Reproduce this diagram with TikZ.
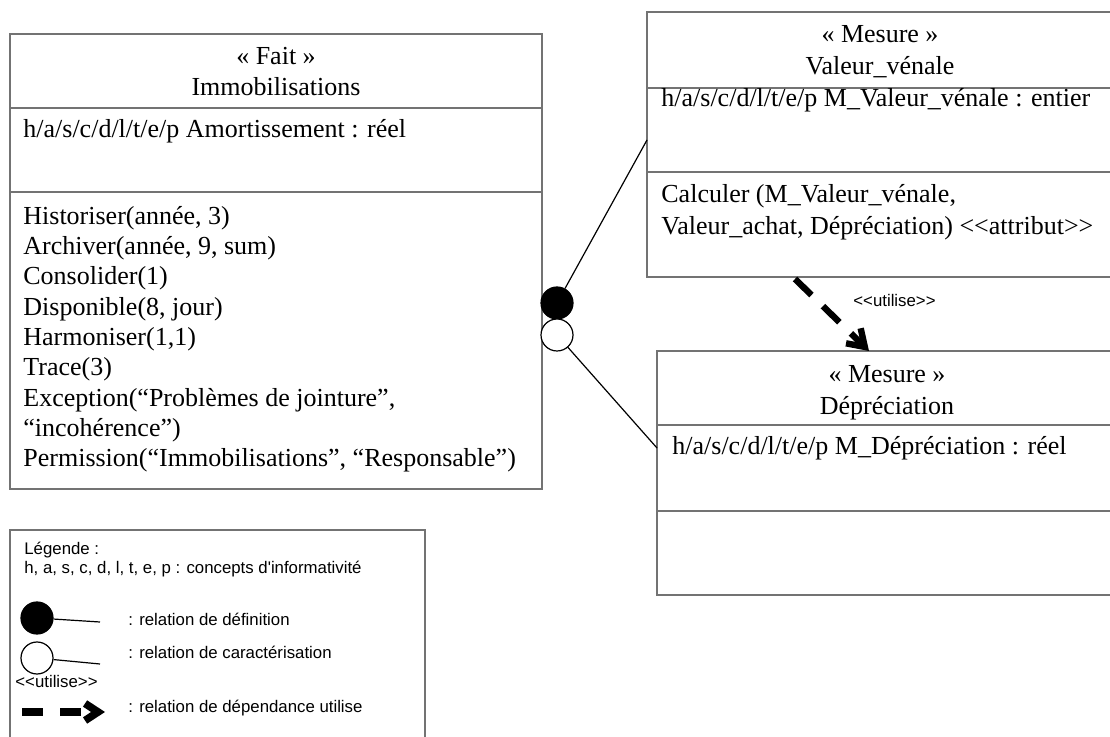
\documentclass[tikz,border=0pt]{standalone}
\usepackage{fontspec}
\setmainfont{Liberation Serif}[Ligatures=TeXOff]
\newfontfamily\arial{Liberation Sans}[Ligatures=TeXOff]
\usetikzlibrary{arrows.meta,calc}
\begin{document}
\begin{tikzpicture}[x=0.5pt,y=-0.5pt,
  cls/.style={draw=black!55, line width=0.7pt, anchor=north west, inner sep=0, outer sep=0},
  divl/.style={draw=black!55, line width=0.7pt},
  ser/.style={font=\fontsize{13}{15}\selectfont, inner sep=0, anchor=base west},
  serc/.style={ser, anchor=base},
  leg/.style={font=\arial\fontsize{8.4}{10}\selectfont, inner sep=0, anchor=base west},
  dot/.style={circle, draw=black, line width=0.6pt, minimum size=16pt, inner sep=0},
  link/.style={draw=black, line width=0.6pt},
  dep/.style={line width=3.2pt, dash pattern=on 11.5pt off 8pt, -{Straight Barb[length=8pt,width=10.5pt]}}]
\useasboundingbox (0,0) rectangle (1110,737);
\clip (0,0) rectangle (1110,737);
\fill[white] (0,0) rectangle (1110,737);

% Fait Immobilisations
\node[cls, minimum width=266pt, minimum height=227.5pt] (fait) at (10,34) {};
\draw[divl] (fait.west |- 0,108) -- (fait.east |- 0,108);
\draw[divl] (fait.west |- 0,192) -- (fait.east |- 0,192);
\node[serc] (faitst) at (276,65) {« Fait »};
\node[serc] (faitnm) at (276,96) {Immobilisations};
\node[ser] (faitat) at (23,138) {h/a/s/c/d/l/t/e/p Amortissement : réel};
\node[ser] (m1) at (23,224.3) {Historiser(année, 3)};
\node[ser] (m2) at (23,254.6) {Archiver(année, 9, sum)};
\node[ser] (m3) at (23,284.9) {Consolider(1)};
\node[ser] (m4) at (23,315.2) {Disponible(8, jour)};
\node[ser] (m5) at (23,345.5) {Harmoniser(1,1)};
\node[ser] (m6) at (23,375.8) {Trace(3)};
\node[ser] (m7) at (23,406.1) {Exception(“Problèmes de jointure”,};
\node[ser] (m8) at (23,436.4) {“incohérence”)};
\node[ser] (m9) at (23,466.7) {Permission(“Immobilisations”, “Responsable”)};

% Valeur venale
\node[cls, minimum width=233pt, minimum height=132.5pt] (valeur) at (647,12) {};
\draw[divl] (valeur.west |- 0,88) -- (valeur.east |- 0,88);
\draw[divl] (valeur.west |- 0,172) -- (valeur.east |- 0,172);
\node[serc] (valst) at (880,43) {« Mesure »};
\node[serc] (valnm) at (880,75) {Valeur\_vénale};
\node[ser] (valat) at (661,107) {h/a/s/c/d/l/t/e/p M\_Valeur\_vénale : entier};
\node[ser] (valm1) at (661,203) {Calculer (M\_Valeur\_vénale,};
\node[ser] (valm2) at (661,235) {Valeur\_achat, Dépréciation) <<attribut>>};

% Depreciation
\node[cls, minimum width=230pt, minimum height=122pt] (depr) at (657,351) {};
\draw[divl] (depr.west |- 0,425) -- (depr.east |- 0,425);
\draw[divl] (depr.west |- 0,511) -- (depr.east |- 0,511);
\node[serc] (depst) at (887,383) {« Mesure »};
\node[serc] (depnm) at (887,415) {Dépréciation};
\node[ser] (depat) at (672,455) {h/a/s/c/d/l/t/e/p M\_Dépréciation : réel};

% relations
\node[dot, fill=black] (dot1) at (557,303) {};
\node[dot, fill=white] (dot2) at (557,335) {};
\draw[link] (dot1) -- (valeur.west |- 0,140);
\draw[link] (dot2) -- (depr.west |- 0,448);
\draw[dep] ($(valeur.south west)+(148,2)$) -- ($(depr.north west)+(212,0)$);
\node[leg] (utl) at (853,307) {<<utilise>>};

% Legend
\node[cls, minimum width=207.5pt, minimum height=120pt] (legend) at (10,530) {};
\node[leg] (lg1) at (24,555) {Légende :};
\node[leg] (lg2) at (24,574) {h, a, s, c, d, l, t, e, p : concepts d'informativité};
\node[dot, fill=black] (ldot1) at (37,618) {};
\coordinate (le1) at (100,622);
\draw[link] (ldot1) -- (le1);
\node[leg] (lt1) at (128,626) {: relation de définition};
\node[dot, fill=white] (ldot2) at (37,658) {};
\coordinate (le2) at (100,664);
\draw[link] (ldot2) -- (le2);
\node[leg] (lt2) at (128,659) {: relation de caractérisation};
\node[leg] (lut) at (15,688) {<<utilise>>};
\coordinate (la1) at (22,712);
\coordinate (la2) at (105,712);
\draw[dep, line width=3.8pt, dash pattern=on 10.5pt off 8.5pt, -{Straight Barb[length=6.5pt,width=8.5pt]}] (la1) -- (la2);
\node[leg] (lt3) at (128,713) {: relation de dépendance utilise};
\end{tikzpicture}
\end{document}
